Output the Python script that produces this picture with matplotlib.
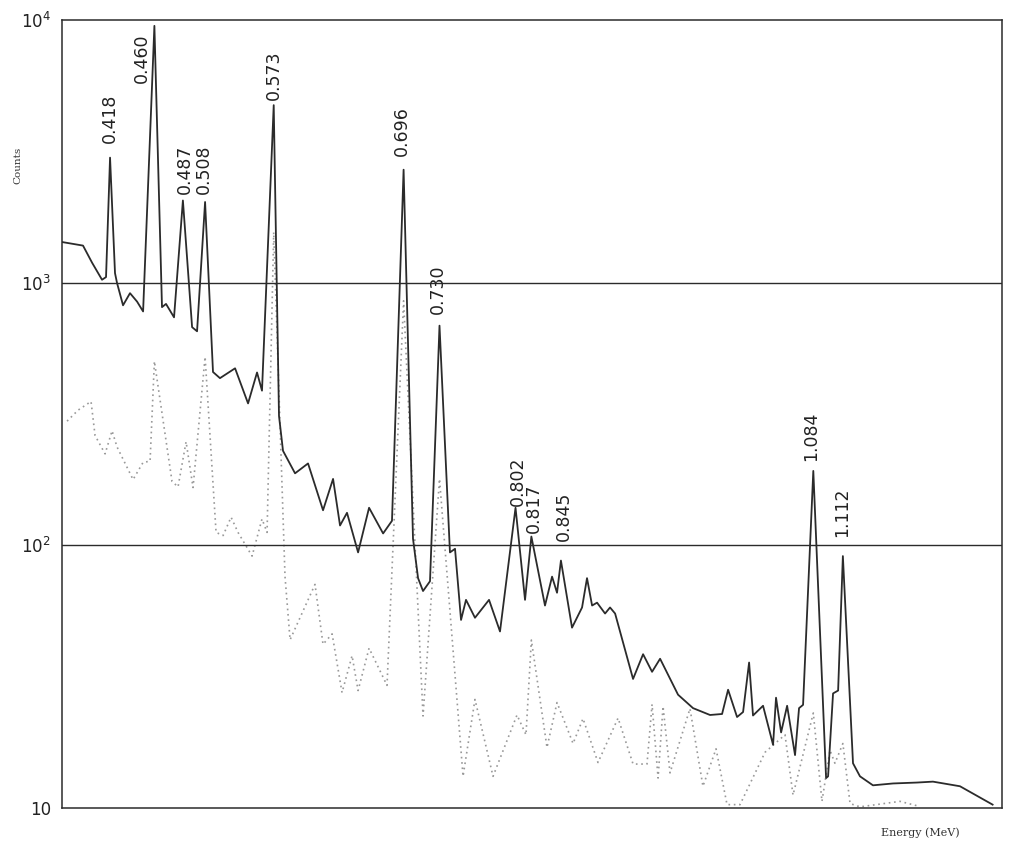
import numpy as np
import matplotlib
matplotlib.use('Agg')
import matplotlib.pyplot as plt

# solid curve: total spectrum
energy_solid = [0.3725, 0.3924, 0.4010, 0.4104, 0.4142, 0.418, 0.4227, 0.4246, 0.4303, 0.4369,
                0.4436, 0.4493, 0.460, 0.4672, 0.4710, 0.4786, 0.487, 0.4957, 0.5004, 0.508,
                0.5155, 0.5221, 0.5364, 0.5487, 0.5572, 0.5619, 0.573, 0.578, 0.5818, 0.5932,
                0.6055, 0.6197, 0.6292, 0.6358, 0.6424, 0.6529, 0.6633, 0.6766, 0.6850, 0.696,
                0.7049, 0.7097, 0.7144, 0.7210, 0.730, 0.7399, 0.7447, 0.7504, 0.7551, 0.7636,
                0.7769, 0.7873, 0.802, 0.8110, 0.817, 0.8299, 0.8366, 0.8413, 0.845, 0.8555,
                0.8650, 0.8697, 0.8745, 0.8792, 0.8868, 0.8915, 0.8963, 0.9133, 0.9228, 0.9313,
                0.9389, 0.9559, 0.9701, 0.9862, 0.9976, 1.0033, 1.0118, 1.0175, 1.0232, 1.0269,
                1.0364, 1.0459, 1.0487, 1.0535, 1.0592, 1.0667, 1.0705, 1.0743, 1.084, 1.0961,
                1.0980, 1.1027, 1.1075, 1.112, 1.1216, 1.1282, 1.1405, 1.1595, 1.1822, 1.1973,
                1.2229, 1.2538]
counts_solid = [1428, 1384, 1191, 1026, 1050, 2992, 1087, 998, 820, 912,
                847, 777, 9500, 807, 830, 738, 2055, 677, 653, 2028,
                457, 433, 472, 347, 455, 388, 4740, 311, 229, 188,
                205, 136, 179, 119, 133, 94, 139, 111, 124, 2692,
                106, 75, 67, 73, 686, 94, 97, 52, 62, 53,
                62, 47, 139, 62, 108, 59, 76, 66, 87.5, 48.6,
                58, 75, 59, 60.5, 55, 58, 55, 31, 38.5, 33,
                37, 27, 24, 22.6, 22.8, 28.2, 22.2, 23.2, 35.8, 22.5,
                24.5, 17.4, 26.3, 19.4, 24.5, 15.9, 24.0, 24.7, 192, 13.0,
                13.2, 27.3, 28, 91, 14.8, 13.2, 12.2, 12.4, 12.5, 12.6,
                12.1, 10.3]

# dotted curve
energy_dotted = [0.3773, 0.3877, 0.4000, 0.4038, 0.4133, 0.4199, 0.4246, 0.4398, 0.4493, 0.4559,
                 0.460, 0.4767, 0.4824, 0.4900, 0.4966, 0.508, 0.5184, 0.5251, 0.5326, 0.5392,
                 0.5525, 0.5619, 0.5667, 0.573, 0.5837, 0.5885, 0.6121, 0.6197, 0.6283, 0.6377,
                 0.6472, 0.6529, 0.6633, 0.6803, 0.696, 0.7144, 0.730, 0.7523, 0.7636, 0.7807,
                 0.8034, 0.8119, 0.817, 0.8318, 0.8413, 0.8565, 0.8659, 0.8801, 0.8991, 0.9133,
                 0.9265, 0.9313, 0.9370, 0.9417, 0.9483, 0.9672, 0.9795, 0.9919, 1.0023, 1.0146,
                 1.0383, 1.0572, 1.0648, 1.084, 1.0922, 1.0998, 1.1045, 1.112, 1.1188, 1.1282,
                 1.1661, 1.1822]
counts_dotted = [297, 327, 353, 262, 223, 273, 237, 178, 207, 209,
                 502, 175, 167, 248, 166, 522, 112, 109, 128, 112,
                 91, 126, 112, 1556, 76, 43.7, 71, 42, 46, 27.5,
                 38, 28, 40.6, 29.3, 853, 22.4, 179, 13.2, 25.9, 13.2,
                 22.6, 19, 43.6, 17, 25.2, 17.6, 21.9, 14.9, 22, 14.7,
                 14.7, 24.8, 13.0, 24.4, 13.6, 23.9, 12.1, 16.8, 10.3, 10.3,
                 16.3, 19, 11.2, 23, 10.6, 16.6, 14.8, 17.6, 10.4, 10.1,
                 10.6, 10.2]

peak_energies = [0.418, 0.460, 0.487, 0.508, 0.573, 0.696, 0.730, 0.802, 0.817, 0.845, 1.084, 1.112]
peak_labels = ['0.418', '0.460', '0.487', '0.508', '0.573', '0.696', '0.730', '0.802', '0.817',
               '0.845', '1.084', '1.112']
# label offsets in pixels (dx, dy)
label_offsets = [(0, 15), (-13, -57), (2, 7), (-1, 8), (0, 5), (-2, 14), (-2, 12), (2, 2),
                 (3, 4), (3, 20), (-2, 10), (-1, 19)]

ytick_vals = [10, 100, 1000, 10000]
ytick_text = ['10', '10$^2$', '10$^3$', '10$^4$']

ink = '#2b2b2b'

fig = plt.figure(figsize=(10.11, 8.43), dpi=100)
ax = fig.add_axes([62 / 1011, 35 / 843, 940 / 1011, 788 / 843])

ax.plot(energy_dotted, counts_dotted, color='#999999', lw=1.2, linestyle=(0, (1, 2.2)))
ax.plot(energy_solid, counts_solid, color=ink, lw=1.3, solid_joinstyle='round')

ax.axhline(1000, color=ink, lw=1.0)
ax.axhline(100, color=ink, lw=1.0)

for e, lab, (dx, dy) in zip(peak_energies, peak_labels, label_offsets):
    c = np.interp(e, energy_solid, counts_solid)
    ax.annotate(lab, (e, c), xytext=(dx, dy), textcoords='offset pixels',
                rotation=90, ha='center', va='bottom', fontsize=12.5,
                color='#222222')

ax.set_yscale('log')
ax.set_ylim(10, 10000)
ax.set_xlim(0.3725, 0.418 + 892 / 1056)
ax.set_xticks([])
ax.minorticks_off()
ax.set_yticks(ytick_vals)
ax.set_yticklabels(ytick_text, fontsize=12, color='#222222')
ax.tick_params(axis='y', length=0, pad=8)
for sp in ax.spines.values():
    sp.set_color(ink)
    sp.set_linewidth(1.1)

fig.text(18 / 1011, 1 - 165 / 843, 'Counts', rotation=90, ha='center', va='center',
         family='DejaVu Serif', fontsize=7.5, color='#333333')
fig.text(920 / 1011, 1 - 833 / 843, 'Energy (MeV)', ha='center', va='center',
         family='DejaVu Serif', fontsize=8, color='#333333')

fig.savefig('out.png', dpi=100)
